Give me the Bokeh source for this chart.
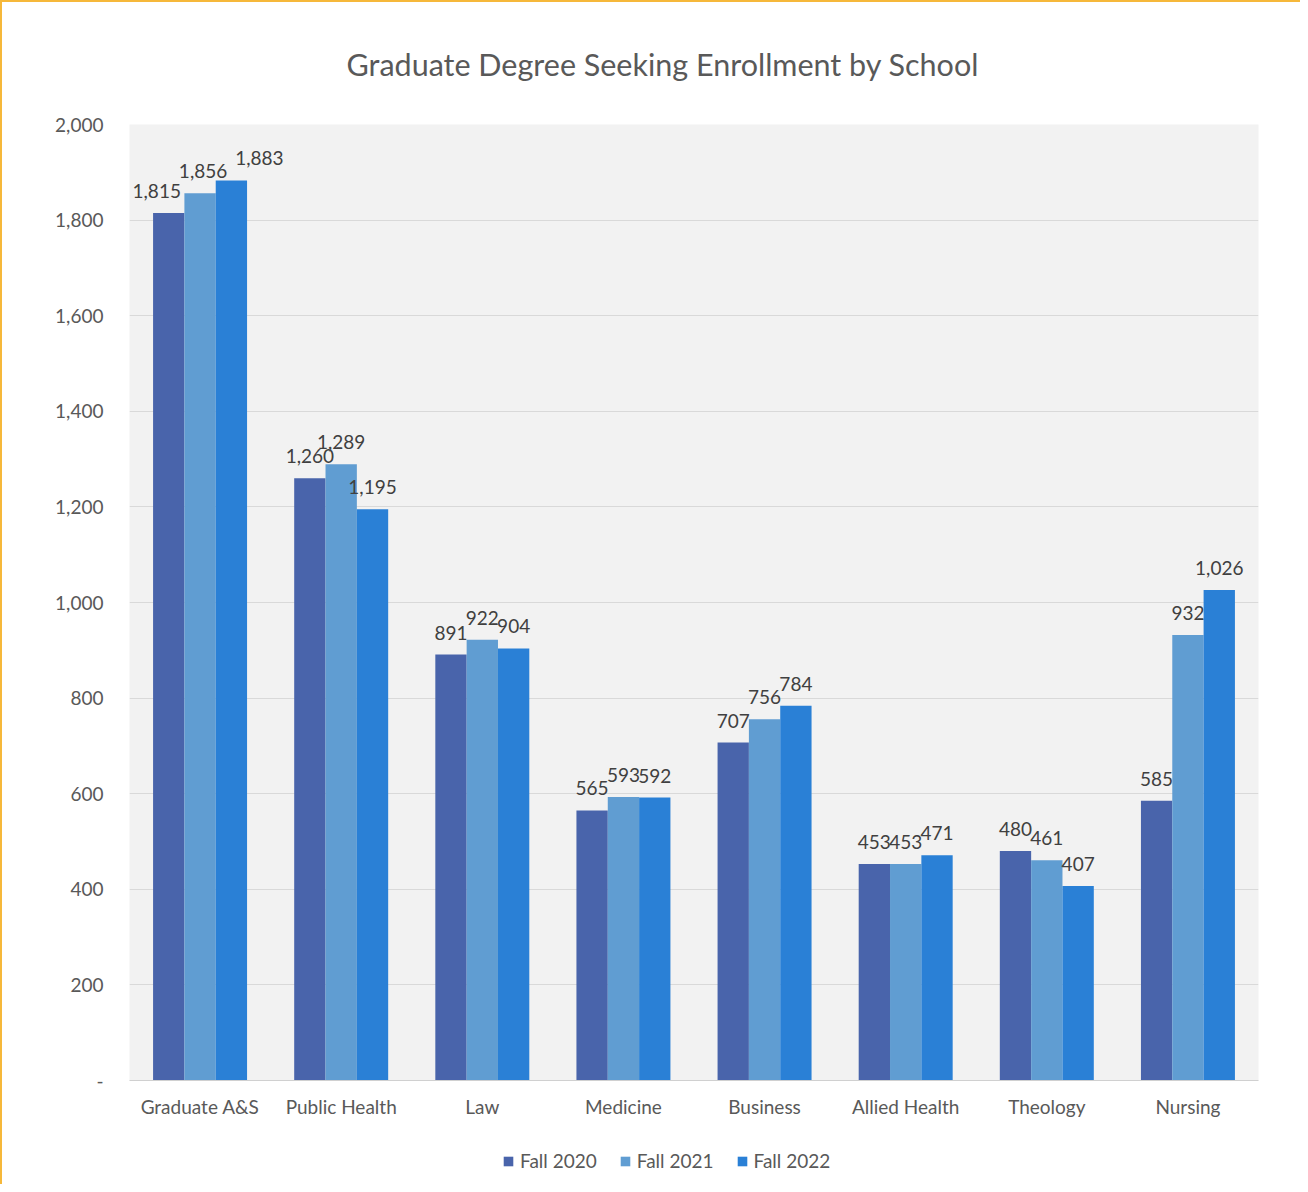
from bokeh.plotting import figure
from bokeh.layouts import column
from bokeh.models import (ColumnDataSource, FactorRange, Legend, LegendItem,
                          NumeralTickFormatter, FixedTicker, Range1d)
from bokeh.transform import dodge
from bokeh.core.properties import value
from bokeh.embed import file_html
from bokeh.resources import INLINE

schools = ["Graduate A&S", "Public Health", "Law", "Medicine", "Business",
           "Allied Health", "Theology", "Nursing"]
fall_2020 = [1815, 1260, 891, 565, 707, 453, 480, 585]
fall_2021 = [1856, 1289, 922, 593, 756, 453, 461, 932]
fall_2022 = [1883, 1195, 904, 592, 784, 471, 407, 1026]
series_names = ["Fall 2020", "Fall 2021", "Fall 2022"]
y_ticks = [0, 200, 400, 600, 800, 1000, 1200, 1400, 1600, 1800, 2000]

# styling
colors = ["#4964ab", "#609dd2", "#2a80d6"]
FONT = "Lato"
FS = "19px"
# horizontal nudges (px) that keep crowded data labels apart, as in the original
label_nudge = {("Graduate A&S", 0): -12, ("Graduate A&S", 1): 3, ("Graduate A&S", 2): 28}

data = dict(school=schools, f2020=fall_2020, f2021=fall_2021, f2022=fall_2022)
for i, (k, vals) in enumerate([("2020", fall_2020), ("2021", fall_2021), ("2022", fall_2022)]):
    data["l" + k] = [f"{v:,}" for v in vals]
    data["n" + k] = [label_nudge.get((s, i), 0) for s in schools]
src = ColumnDataSource(data)

p = figure(width=1298, height=1136, x_range=FactorRange(*schools, range_padding=0),
           y_range=(0, 2000), output_backend="svg", toolbar_location=None,
           min_border_left=127, min_border_right=42, min_border_top=122,
           min_border_bottom=58)

p.title.text = "Graduate Degree Seeking Enrollment by School"
p.title.align = "left"
p.title.offset = 217
p.title.vertical_align = "top"
p.title.text_font = FONT
p.title.text_font_size = "30.5px"
p.title.text_font_style = "normal"
p.title.text_color = "#595959"
p.title.standoff = 82

p.background_fill_color = "#f2f2f2"
p.border_fill_color = "white"
p.outline_line_color = None

w = 0.222
offs = [-w, 0.0, w]
fields = ["f2020", "f2021", "f2022"]
lfields = ["l2020", "l2021", "l2022"]
nfields = ["n2020", "n2021", "n2022"]
for off, f, lf, nf, c in zip(offs, fields, lfields, nfields, colors):
    p.vbar(x=dodge("school", off, range=p.x_range), top=f, width=w,
           source=src, fill_color=c, line_color=None)
    p.text(x=dodge("school", off, range=p.x_range), y=f, text=lf, source=src,
           x_offset=nf, text_align="center", text_baseline="bottom", y_offset=-15,
           text_font=value(FONT), text_font_size=FS, text_color="#404040")

p.xgrid.grid_line_color = None
p.ygrid.grid_line_color = "#d9d9d9"
p.ygrid.grid_line_width = 1

p.yaxis.ticker = FixedTicker(ticks=y_ticks)
p.yaxis.formatter = NumeralTickFormatter(format="0,0")
p.yaxis.major_label_overrides = {0: "-"}
p.yaxis.axis_line_color = None
p.yaxis.major_tick_line_color = None
p.yaxis.minor_tick_line_color = None
p.yaxis.major_label_standoff = 20
p.yaxis.major_label_text_font = FONT
p.yaxis.major_label_text_font_size = FS
p.yaxis.major_label_text_color = "#595959"

p.xaxis.axis_line_color = "#d0d0d0"
p.xaxis.major_tick_line_color = None
p.xaxis.minor_tick_line_color = None
p.xaxis.major_label_standoff = 8
p.xaxis.major_label_text_font = FONT
p.xaxis.major_label_text_font_size = FS
p.xaxis.major_label_text_color = "#595959"

# legend strip: same series drawn from the same source (kept out of view),
# so the legend can sit below the chart
lf = figure(width=1298, height=46, x_range=p.x_range, y_range=Range1d(3000, 4000),
            output_backend="svg", toolbar_location=None,
            x_axis_location=None, y_axis_location=None, min_border=0)
lf.grid.grid_line_color = None
lf.outline_line_color = None
lf.background_fill_color = "white"
lf.border_fill_color = "white"
leg_renderers = []
for off, f, c in zip(offs, fields, colors):
    r = lf.vbar(x=dodge("school", off, range=lf.x_range), top=f, width=w,
                source=src, fill_color=c, line_color=None)
    leg_renderers.append(r)

legend = Legend(items=[LegendItem(label=n, renderers=[r]) for n, r in zip(series_names, leg_renderers)],
                orientation="horizontal", location=(373, 12),
                glyph_width=12, glyph_height=12, label_standoff=6, spacing=22,
                padding=0, margin=0, border_line_color=None, background_fill_alpha=0,
                label_text_font=FONT, label_text_font_size=FS,
                label_text_color="#595959")
lf.add_layout(legend, "center")

layout = column(p, lf, spacing=0)
layout.styles = {"border-left": "2px solid #f6b83a", "border-top": "2px solid #f6b83a"}

open("out.html", "w").write(file_html(layout, INLINE))
